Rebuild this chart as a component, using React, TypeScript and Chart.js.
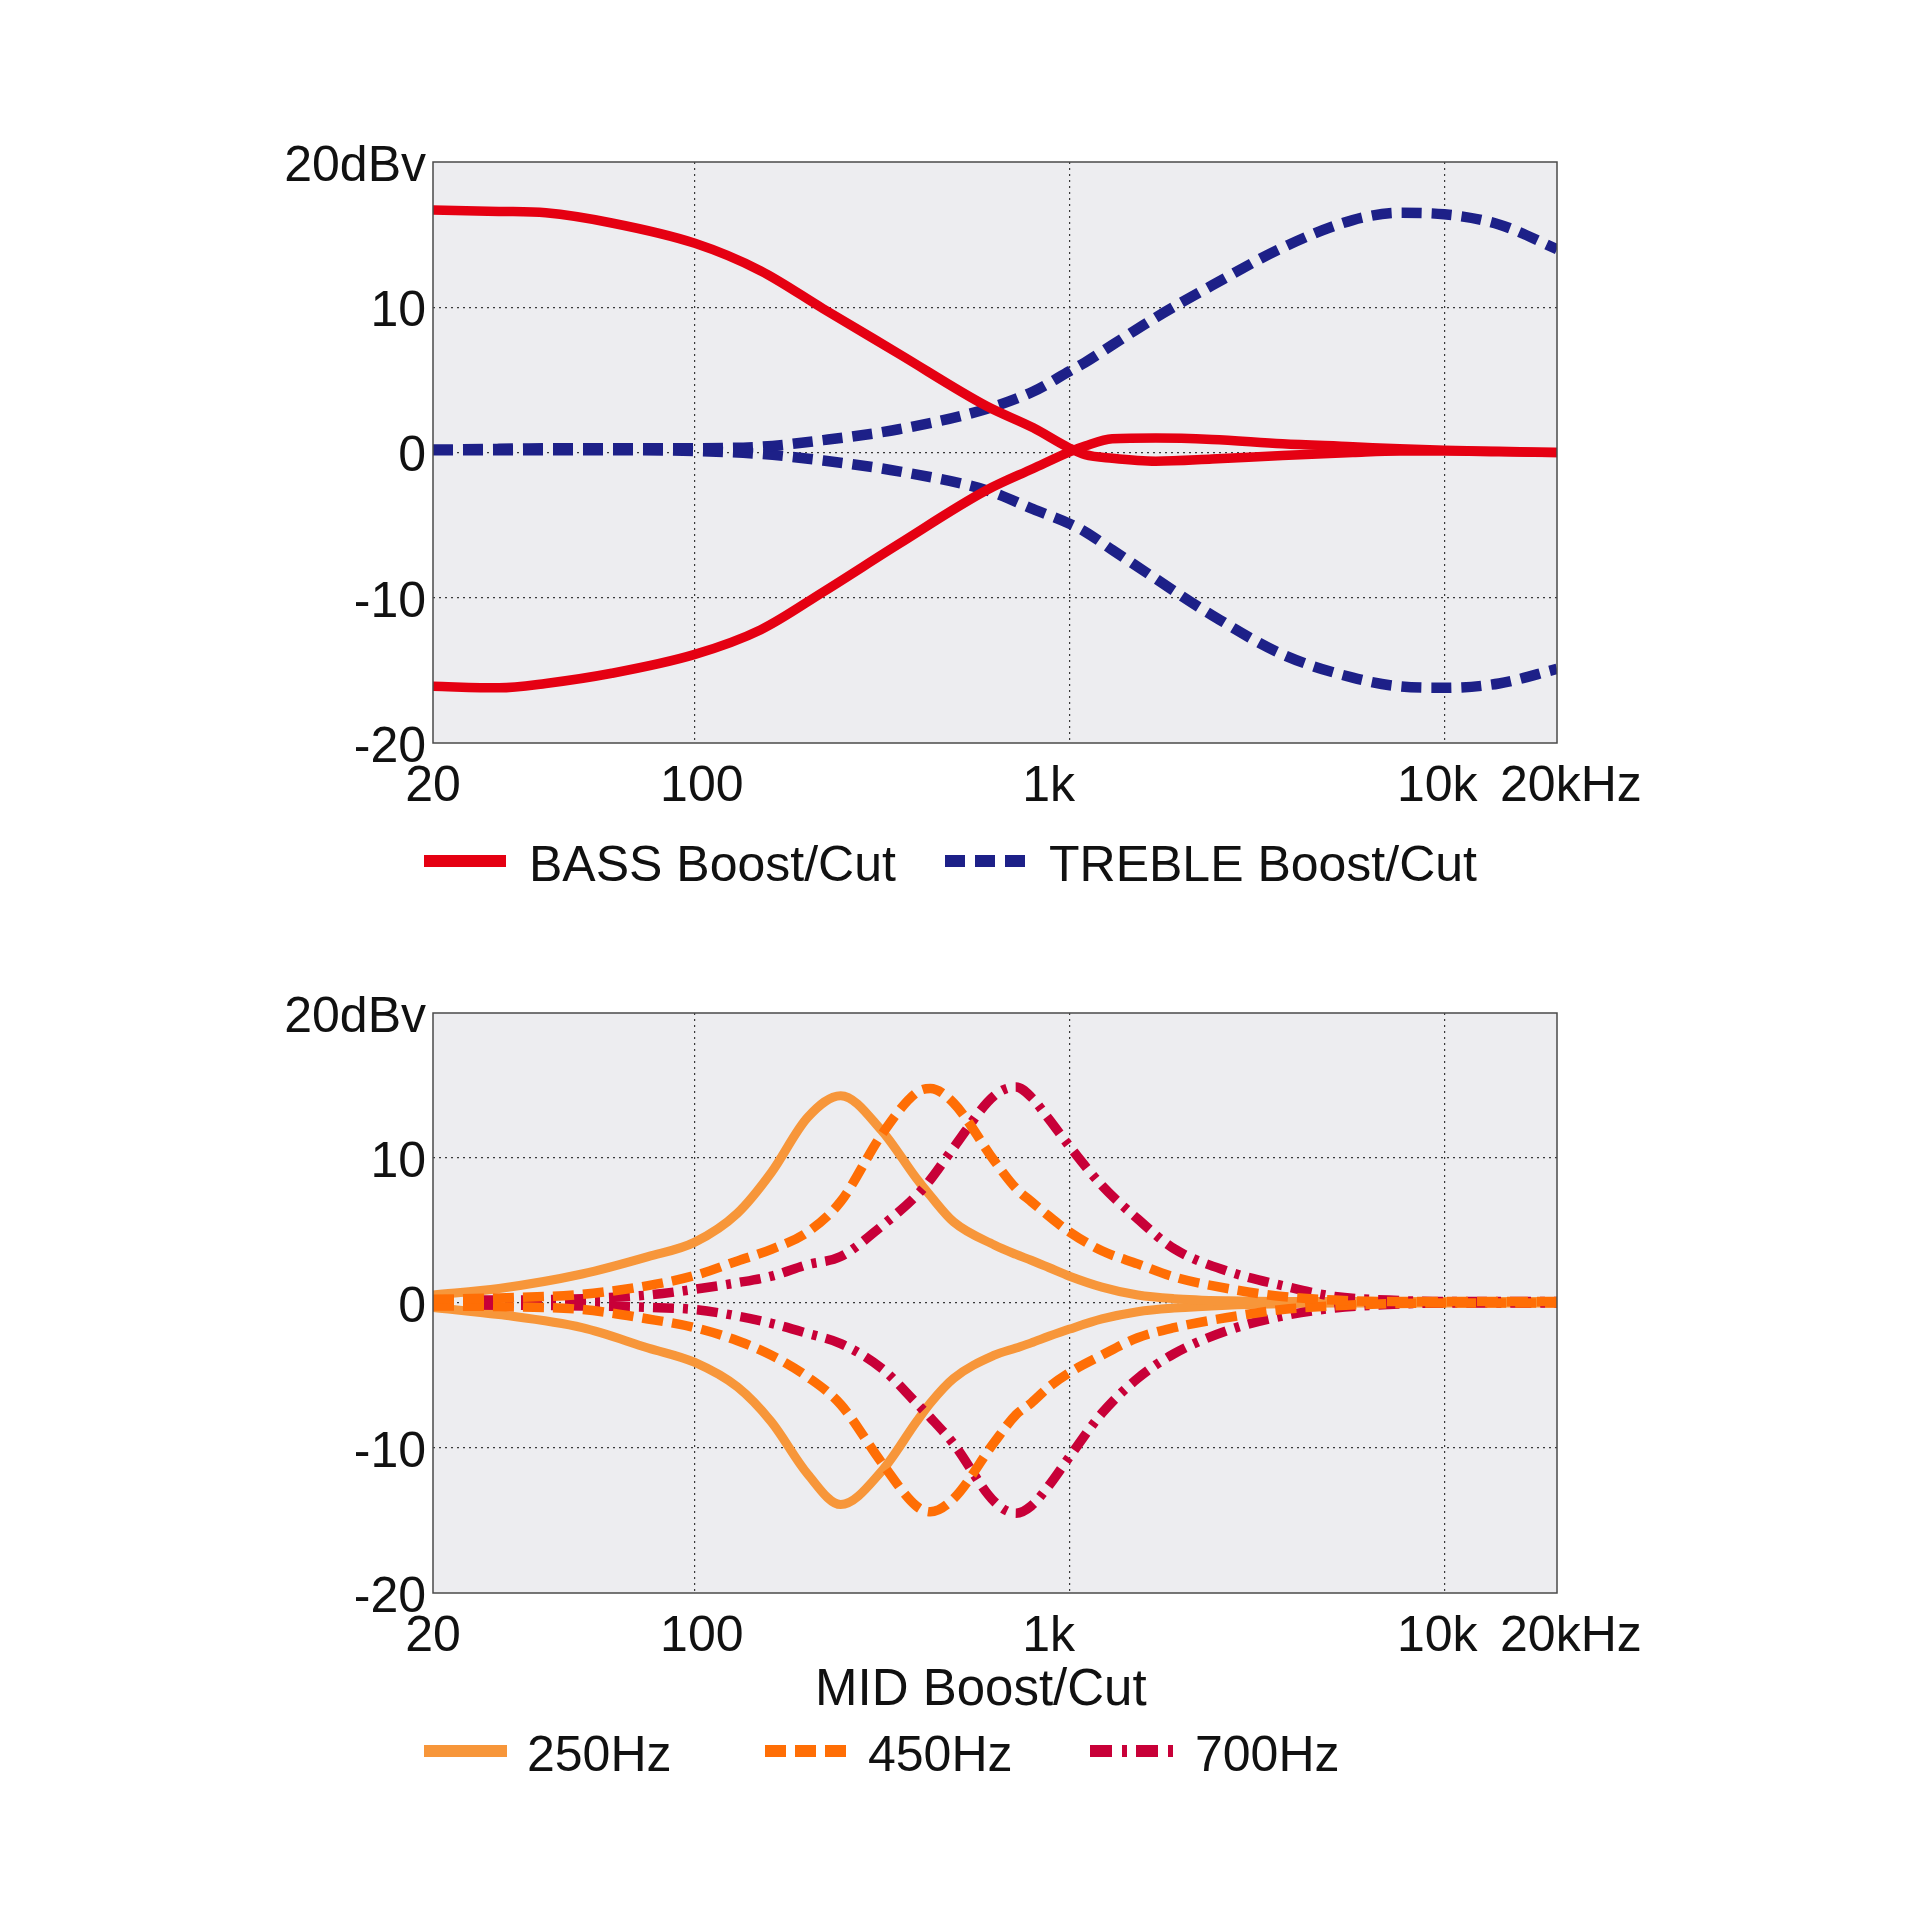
import React, { useEffect, useRef } from 'react';
import { Chart, registerables } from 'chart.js';

Chart.register(...registerables);

const FONT_FAMILY = '"Liberation Sans", Arial, Helvetica, sans-serif';
const TEXT_COLOR = '#111111';
const GRID_COLOR = '#3a3a3a';
const FRAME_COLOR = '#4a4a4a';
const PLOT_BG = '#EDEDF0';

// Axis ticks shared by both panels
const X_TICK_VALUES = [20, 100, 1000, 10000, 20000];
const X_TICK_LABELS = ['20', '100', '1k', '10k', '20kHz'];
const Y_TICK_VALUES = [-20, -10, 0, 10, 20];
const Y_TICK_LABELS = ['-20', '-10', '0', '10', '20dBv'];

// Tone controls (Hz / dB)
const TONE_FREQ = [20, 30, 40, 60, 100, 150, 220, 350, 600, 800, 1000, 1100, 1300, 1700, 2400, 3700, 5700, 7600, 10000, 14000, 20000];
const BASS_BOOST = [16.7, 16.6, 16.5, 15.8, 14.4, 12.5, 9.9, 6.8, 3.2, 1.7, 0.3, -0.15, -0.4, -0.6, -0.45, -0.2, 0, 0.1, 0.1, 0.05, 0];
const BASS_CUT = [-16.1, -16.2, -15.9, -15.2, -13.9, -12.2, -9.6, -6.3, -2.6, -1.1, 0.05, 0.45, 0.95, 1.0, 0.9, 0.6, 0.4, 0.25, 0.15, 0.08, 0];
const TREBLE_BOOST = [0.2, 0.25, 0.3, 0.3, 0.3, 0.4, 0.85, 1.6, 3.0, 4.2, 5.6, 6.2, 7.4, 9.3, 11.5, 14.1, 16.0, 16.5, 16.4, 15.7, 14.0];
const TREBLE_CUT = [0.15, 0.15, 0.15, 0.15, 0.1, -0.1, -0.55, -1.3, -2.6, -3.9, -4.9, -5.45, -6.7, -8.7, -11.2, -13.9, -15.5, -16.1, -16.2, -15.9, -14.9];

// Mid control at three centre frequencies (Hz / dB)
const MID_FREQ = [20, 30, 50, 75, 100, 130, 160, 200, 245, 315, 390, 425, 490, 630, 720, 790, 880, 1000, 1220, 1520, 1900, 2640, 3700, 5100, 7100, 10000, 20000];
const MID_250_BOOST = [0.55, 1.0, 2.0, 3.2, 4.2, 6.2, 9.0, 12.8, 14.3, 11.9, 8.6, 7.4, 5.6, 4.0, 3.35, 2.95, 2.45, 1.85, 1.1, 0.55, 0.3, 0.15, 0.1, 0.1, 0.1, 0.1, 0.1];
const MID_250_CUT = [-0.3, -0.8, -1.7, -3.1, -4.1, -5.8, -8.2, -11.8, -13.9, -11.6, -8.2, -6.9, -5.2, -3.6, -3.1, -2.75, -2.3, -1.8, -1.1, -0.6, -0.35, -0.15, -0.05, 0, 0, 0, 0];
const MID_450_BOOST = [0.25, 0.35, 0.6, 1.2, 1.9, 2.9, 3.7, 4.9, 7.0, 11.6, 14.5, 14.8, 13.8, 9.8, 7.9, 7.0, 6.0, 4.9, 3.6, 2.7, 1.8, 1.0, 0.45, 0.2, 0.1, 0.1, 0.1];
const MID_450_CUT = [-0.2, -0.25, -0.45, -1.1, -1.7, -2.6, -3.6, -5.1, -7.0, -11.0, -14.0, -14.4, -13.5, -9.6, -7.7, -6.9, -5.8, -4.8, -3.6, -2.4, -1.7, -1.0, -0.45, -0.2, -0.05, 0, 0];
const MID_700_BOOST = [0.2, 0.2, 0.3, 0.55, 0.95, 1.4, 1.85, 2.65, 3.2, 5.3, 7.4, 8.5, 10.7, 14.3, 14.9, 14.2, 12.7, 10.8, 8.1, 5.8, 3.75, 2.2, 1.2, 0.45, 0.2, 0.1, 0.1];
const MID_700_CUT = [-0.1, -0.15, -0.2, -0.3, -0.45, -0.9, -1.4, -2.1, -2.8, -4.5, -6.9, -7.9, -9.7, -13.7, -14.5, -14.0, -12.6, -10.6, -7.6, -5.2, -3.5, -1.9, -0.9, -0.35, -0.1, 0, 0];

const RED = '#E50012';
const NAVY = '#1D2088';
const ORANGE_250 = '#F7963A';
const ORANGE_450 = '#FF6E05';
const CRIMSON_700 = '#C80038';

const DASH_TREBLE = [20, 10];
const DASH_450 = [21, 9];
const DASH_700 = [21, 9, 5, 9];

const toPoints = (freqs: number[], values: number[]) => freqs.map((f, i) => ({ x: f, y: values[i] }));

function curve(label: string, freqs: number[], values: number[], color: string, dash: number[], width: number, order: number) {
  return {
    label,
    data: toPoints(freqs, values),
    borderColor: color,
    backgroundColor: color,
    borderWidth: width,
    borderDash: dash,
    borderCapStyle: 'butt',
    borderJoinStyle: 'round',
    pointRadius: 0,
    pointHoverRadius: 0,
    fill: false,
    cubicInterpolationMode: 'monotone',
    clip: 0,
    order,
  };
}

type LegendEntry = { text: string; color: string; dash: number[]; offset: number; sampleWidth: number; gap: number };

// Plot background, frame and a legend with long line samples
function panelDecor(entries: LegendEntry[], legendDy: number) {
  return {
    id: 'panelDecor',
    beforeDraw(chart: any) {
      const { ctx, chartArea } = chart;
      ctx.save();
      ctx.fillStyle = PLOT_BG;
      ctx.fillRect(chartArea.left, chartArea.top, chartArea.right - chartArea.left, chartArea.bottom - chartArea.top);
      ctx.restore();
    },
    afterDatasetsDraw(chart: any) {
      const { ctx, chartArea } = chart;
      ctx.save();
      ctx.strokeStyle = FRAME_COLOR;
      ctx.lineWidth = 1.5;
      ctx.setLineDash([]);
      ctx.strokeRect(chartArea.left, chartArea.top, chartArea.right - chartArea.left, chartArea.bottom - chartArea.top);
      ctx.restore();
    },
    afterDraw(chart: any) {
      const { ctx, chartArea } = chart;
      const y = chartArea.bottom + legendDy;
      ctx.save();
      ctx.font = `50px ${FONT_FAMILY}`;
      ctx.textBaseline = 'middle';
      ctx.textAlign = 'left';
      for (const e of entries) {
        const x0 = chartArea.left + e.offset;
        ctx.beginPath();
        ctx.setLineDash(e.dash);
        ctx.lineWidth = 12;
        ctx.lineCap = 'butt';
        ctx.strokeStyle = e.color;
        ctx.moveTo(x0, y);
        ctx.lineTo(x0 + e.sampleWidth, y);
        ctx.stroke();
        ctx.setLineDash([]);
        ctx.fillStyle = TEXT_COLOR;
        ctx.fillText(e.text, x0 + e.sampleWidth + e.gap, y + 6);
      }
      ctx.restore();
    },
  };
}

const edgeAware = (edges: number[]) => (ctx: any) =>
  ctx.tick && edges.includes(ctx.tick.value) ? 'rgba(0,0,0,0)' : GRID_COLOR;

// Spaces around some frequency labels keep neighbouring labels apart
const X_LABEL_SPACES_BEFORE = [0, 1, 0, 0, 2];
const X_LABEL_SPACES_AFTER = [0, 0, 3, 1, 0];

function buildScales(xTitle: string | null, xHeight: number) {
  const tickFont = { family: FONT_FAMILY, size: 50 };
  return {
    x: {
      type: 'logarithmic',
      min: 20,
      max: 20000,
      afterBuildTicks: (scale: any) => {
        scale.ticks = X_TICK_VALUES.map((v) => ({ value: v }));
      },
      afterFit: (scale: any) => {
        scale.height = xHeight;
      },
      grid: { color: edgeAware([20, 20000]), lineWidth: 1.2, drawTicks: false, borderDash: [2, 4] },
      border: { display: false, dash: [2, 4] },
      ticks: {
        callback: (_v: any, i: number) =>
          ' '.repeat(X_LABEL_SPACES_BEFORE[i]) + X_TICK_LABELS[i] + ' '.repeat(X_LABEL_SPACES_AFTER[i]),
        color: TEXT_COLOR,
        font: tickFont,
        padding: 14,
        autoSkip: false,
        maxRotation: 0,
        minRotation: 0,
      },
      title: xTitle
        ? {
            display: true,
            text: xTitle + '  ',
            color: TEXT_COLOR,
            font: { family: FONT_FAMILY, size: 51 },
            padding: { top: 0, bottom: 0 },
          }
        : { display: false },
    },
    y: {
      type: 'linear',
      min: -20,
      max: 20,
      afterFit: (scale: any) => {
        scale.width = 433;
      },
      grid: { color: edgeAware([-20, 20]), lineWidth: 1.2, drawTicks: false, borderDash: [2, 4] },
      border: { display: false, dash: [2, 4] },
      ticks: {
        stepSize: 10,
        callback: (v: any) => {
          const i = Y_TICK_VALUES.indexOf(Number(v));
          return i >= 0 ? Y_TICK_LABELS[i] : '';
        },
        color: TEXT_COLOR,
        font: tickFont,
        padding: 7,
        labelOffset: 5,
      },
    },
  };
}

function baseOptions(padding: any, scales: any) {
  return {
    responsive: false,
    maintainAspectRatio: false,
    animation: false,
    events: [],
    layout: { padding },
    plugins: { legend: { display: false }, tooltip: { enabled: false } },
    scales,
  };
}

function toneConfig() {
  const entries: LegendEntry[] = [
    { text: 'BASS Boost/Cut', color: RED, dash: [], offset: -9, sampleWidth: 82, gap: 23 },
    { text: 'TREBLE Boost/Cut', color: NAVY, dash: DASH_TREBLE, offset: 512, sampleWidth: 82, gap: 22 },
  ];
  return {
    type: 'line',
    data: {
      datasets: [
        curve('BASS Boost', TONE_FREQ, BASS_BOOST, RED, [], 9.5, 0),
        curve('BASS Cut', TONE_FREQ, BASS_CUT, RED, [], 9.5, 1),
        curve('TREBLE Boost', TONE_FREQ, TREBLE_BOOST, NAVY, DASH_TREBLE, 10.5, 2),
        curve('TREBLE Cut', TONE_FREQ, TREBLE_CUT, NAVY, DASH_TREBLE, 10.5, 3),
      ],
    },
    options: baseOptions({ left: 0, top: 162, right: 363, bottom: 137 }, buildScales(null, 80)),
    plugins: [panelDecor(entries, 118)],
  };
}

function midConfig() {
  const entries: LegendEntry[] = [
    { text: '250Hz', color: ORANGE_250, dash: [], offset: -9, sampleWidth: 83, gap: 20 },
    { text: '450Hz', color: ORANGE_450, dash: DASH_450, offset: 332, sampleWidth: 84, gap: 19 },
    { text: '700Hz', color: CRIMSON_700, dash: [22, 10, 5, 9], offset: 657, sampleWidth: 84, gap: 21 },
  ];
  return {
    type: 'line',
    data: {
      datasets: [
        curve('450Hz Boost', MID_FREQ, MID_450_BOOST, ORANGE_450, DASH_450, 9.5, 0),
        curve('450Hz Cut', MID_FREQ, MID_450_CUT, ORANGE_450, DASH_450, 9.5, 1),
        curve('700Hz Boost', MID_FREQ, MID_700_BOOST, CRIMSON_700, DASH_700, 9.5, 2),
        curve('700Hz Cut', MID_FREQ, MID_700_CUT, CRIMSON_700, DASH_700, 9.5, 3),
        curve('250Hz Boost', MID_FREQ, MID_250_BOOST, ORANGE_250, [], 9, 4),
        curve('250Hz Cut', MID_FREQ, MID_250_CUT, ORANGE_250, [], 9, 5),
      ],
    },
    options: baseOptions({ left: 0, top: 53, right: 363, bottom: 198 }, buildScales('MID Boost/Cut', 129)),
    plugins: [panelDecor(entries, 158)],
  };
}

function ChartCanvas({ top, makeConfig }: { top: number; makeConfig: () => any }) {
  const ref = useRef<HTMLCanvasElement | null>(null);
  useEffect(() => {
    if (!ref.current) return;
    const chart = new Chart(ref.current, makeConfig());
    return () => chart.destroy();
  }, [makeConfig]);
  return (
    <canvas
      ref={ref}
      width={1920}
      height={960}
      style={{ position: 'absolute', left: 0, top, width: 1920, height: 960, display: 'block' }}
    />
  );
}

export default function App() {
  return (
    <div style={{ position: 'absolute', left: 0, top: 0, width: 1920, height: 1920, background: '#ffffff', overflow: 'hidden' }}>
      <ChartCanvas top={0} makeConfig={toneConfig} />
      <ChartCanvas top={960} makeConfig={midConfig} />
    </div>
  );
}
